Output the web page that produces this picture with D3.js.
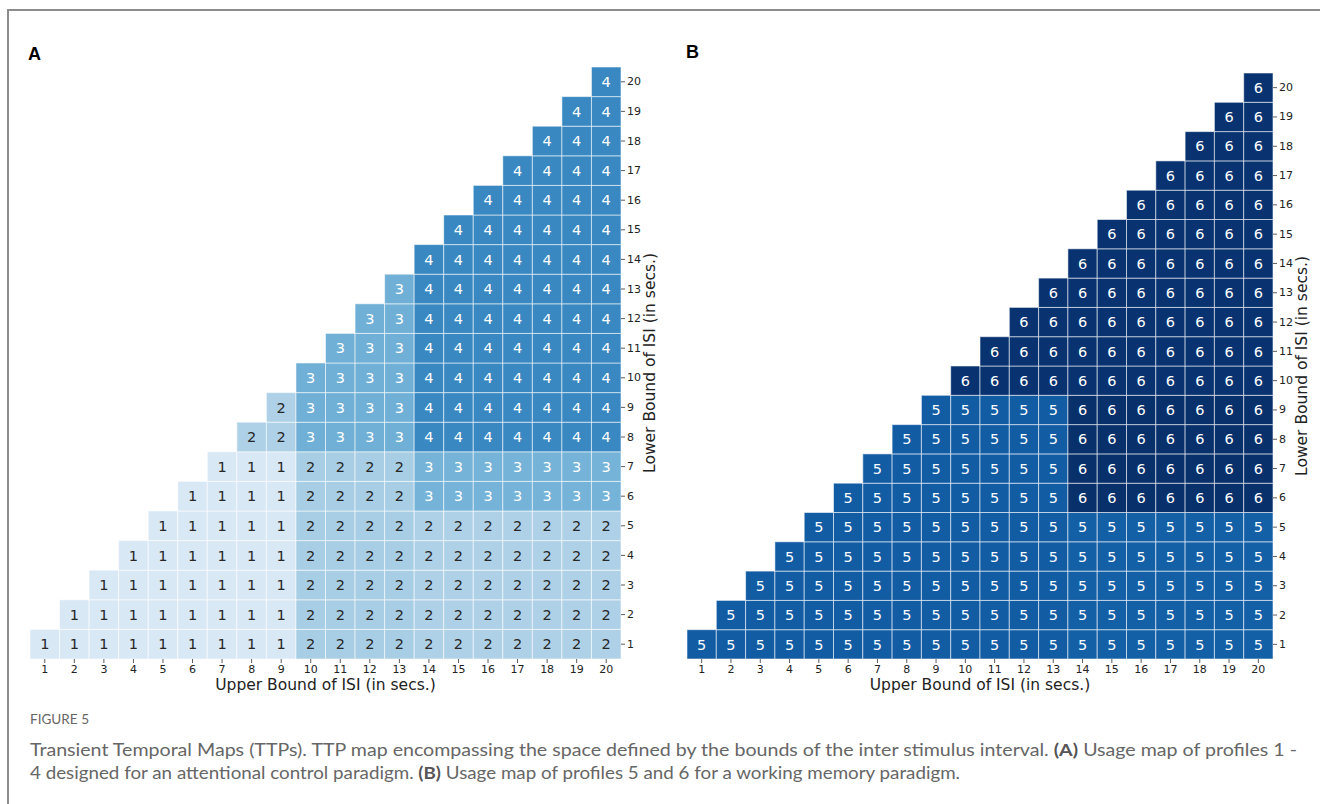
<!DOCTYPE html>
<html>
<head>
<meta charset="utf-8">
<script src="https://cdn.jsdelivr.net/npm/d3@7"></script>
<style>
  body { margin: 0; background: #fff; }
  svg { display: block; }
</style>
</head>
<body>
<div id="fig"></div>
<script>
// tick labels (seconds)
var upperTicks = [1, 2, 3, 4, 5, 6, 7, 8, 9, 10, 11, 12, 13, 14, 15, 16, 17, 18, 19, 20];
var lowerTicks = [1, 2, 3, 4, 5, 6, 7, 8, 9, 10, 11, 12, 13, 14, 15, 16, 17, 18, 19, 20];

// blocks of the map: [lowerFrom, lowerTo, upperFrom, upperTo, profile, colourLevel]
// a cell exists only where upper >= lower
var blocksA = [
    [1, 7, 1, 9, 1, 1.0],
    [8, 9, 8, 9, 2, 2.0],
    [1, 7, 10, 13, 2, 2.12],
    [1, 5, 14, 20, 2, 2.0],
    [6, 7, 14, 20, 3, 2.92],
    [8, 13, 10, 13, 3, 3.0],
    [8, 20, 14, 20, 4, 4.0]
];
var blocksB = [
    [1, 9, 1, 13, 5, 5.0],
    [1, 5, 14, 20, 5, 4.93],
    [6, 9, 14, 20, 6, 6.0],
    [10, 20, 10, 20, 6, 5.93]
];

var W = 1320, H = 804;
var svg = d3.select("#fig").append("svg")
    .attr("width", W)
    .attr("height", H);

// frame round the figure
svg.append("path")
    .attr("d", "M8," + H + "V10H" + W)
    .attr("fill", "none")
    .attr("stroke", "#8c8c8c")
    .attr("stroke-width", 2);

var level2t = d3.scaleLinear().domain([1, 6]).range([0.15, 1.0]).clamp(true);
function cellColour(level) { return d3.interpolateBlues(level2t(level)); }

function expand(blocks) {
    var cells = [];
    blocks.forEach(function(b) {
        for (var r = b[0]; r <= b[1]; r++) {
            for (var c = b[2]; c <= b[3]; c++) {
                if (c >= r) cells.push({ lower: r, upper: c, profile: b[4], level: b[5] });
            }
        }
    });
    return cells;
}

function drawPanel(opt) {
    var g = svg.append("g");

    var x = d3.scaleBand().domain(upperTicks).range([opt.left, opt.right]);
    var y = d3.scaleBand().domain(lowerTicks.slice().reverse()).range([opt.top, opt.bottom]);

    var cells = expand(opt.blocks);

    var cell = g.selectAll(".cell")
        .data(cells)
        .enter().append("g")
        .attr("class", "cell")
        .attr("transform", function(d) { return "translate(" + x(d.upper) + "," + y(d.lower) + ")"; });

    cell.append("rect")
        .attr("width", x.bandwidth())
        .attr("height", y.bandwidth())
        .attr("fill", function(d) { return cellColour(d.level); })
        .attr("stroke", "rgba(255,255,255,0.55)")
        .attr("stroke-width", 1);

    cell.append("text")
        .attr("x", x.bandwidth() / 2)
        .attr("y", y.bandwidth() / 2)
        .attr("dy", "0.36em")
        .attr("text-anchor", "middle")
        .style("font-family", "DejaVu Sans, sans-serif")
        .style("font-size", "14.5px")
        .attr("fill", function(d) { return d.profile <= 2 ? "#262626" : "#ffffff"; })
        .text(function(d) { return d.profile; });

    // x axis below
    var xAxis = g.append("g")
        .attr("transform", "translate(0," + opt.bottom + ")")
        .call(d3.axisBottom(x).tickSize(4).tickPadding(2));
    // y axis on the right
    var yAxis = g.append("g")
        .attr("transform", "translate(" + opt.right + ",0)")
        .call(d3.axisRight(y).tickSize(4).tickPadding(2));

    [xAxis, yAxis].forEach(function(a) {
        a.select(".domain").remove();
        a.selectAll("line").attr("stroke", "#333").attr("stroke-width", 0.8);
        a.selectAll("text")
            .style("font-family", "DejaVu Sans, sans-serif")
            .style("font-size", "11px")
            .attr("fill", "#222");
    });

    g.append("text")
        .attr("x", (opt.left + opt.right) / 2)
        .attr("y", opt.bottom + 31)
        .attr("text-anchor", "middle")
        .style("font-family", "DejaVu Sans, sans-serif")
        .style("font-size", "15.5px")
        .attr("fill", "#222")
        .text("Upper Bound of ISI (in secs.)");

    g.append("text")
        .attr("transform", "translate(" + (opt.right + opt.ylabDx) + "," + ((opt.top + opt.bottom) / 2) + ") rotate(-90)")
        .attr("text-anchor", "middle")
        .style("font-family", "DejaVu Sans, sans-serif")
        .style("font-size", "15.5px")
        .attr("fill", "#222")
        .text("Lower Bound of ISI (in secs.)");

    svg.append("text")
        .attr("x", opt.letterX)
        .attr("y", opt.letterY)
        .style("font-family", "Liberation Sans, Arial, sans-serif")
        .style("font-weight", "bold")
        .style("font-size", "18px")
        .attr("fill", "#000")
        .text(opt.letter);
}

drawPanel({ blocks: blocksA, left: 30, right: 621, top: 67, bottom: 659, ylabDx: 34, letter: "A", letterX: 28, letterY: 60 });
drawPanel({ blocks: blocksB, left: 687, right: 1273, top: 73, bottom: 659, ylabDx: 34, letter: "B", letterX: 686, letterY: 58 });

// caption
var cap = svg.append("g")
    .style("font-family", "Lato, 'Open Sans', sans-serif")
    .attr("fill", "#666");

cap.append("text")
    .attr("x", 30)
    .attr("y", 724)
    .style("font-size", "14px")
    .attr("textLength", 59)
    .attr("lengthAdjust", "spacingAndGlyphs")
    .text("FIGURE 5");

var line1 = cap.append("text").attr("x", 30).attr("y", 756).style("font-size", "17px")
    .attr("textLength", 1267).attr("lengthAdjust", "spacingAndGlyphs");
line1.append("tspan").text("Transient Temporal Maps (TTPs). TTP map encompassing the space defined by the bounds of the inter stimulus interval. ");
line1.append("tspan").style("font-weight", "bold").attr("fill", "#555").text("(A)");
line1.append("tspan").text(" Usage map of profiles 1 -");

var line2 = cap.append("text").attr("x", 30).attr("y", 779).style("font-size", "17px")
    .attr("textLength", 930).attr("lengthAdjust", "spacingAndGlyphs");
line2.append("tspan").text("4 designed for an attentional control paradigm. ");
line2.append("tspan").style("font-weight", "bold").attr("fill", "#555").text("(B)");
line2.append("tspan").text(" Usage map of profiles 5 and 6 for a working memory paradigm.");
</script>
</body>
</html>
